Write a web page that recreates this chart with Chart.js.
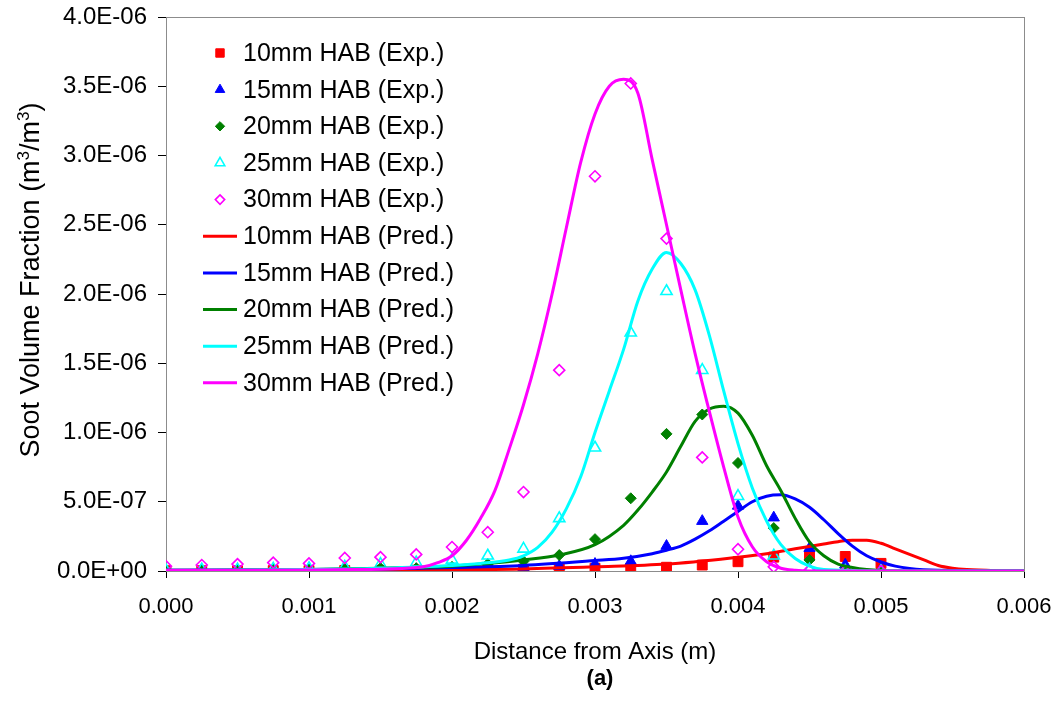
<!DOCTYPE html>
<html>
<head>
<meta charset="utf-8">
<script src="https://cdn.jsdelivr.net/npm/chart.js@4/dist/chart.umd.min.js"></script>
<style>
  html, body { margin: 0; padding: 0; background: #fff; }
  #wrap { width: 1061px; height: 708px; }
</style>
</head>
<body>
<div id="wrap"><canvas id="chart_soot"></canvas></div>
<script>
// soot volume fraction values are written in units of 1E-06 m3/m3
const unit = 1e-6

// experimental points (radial positions every 0.25 mm)
const exp_x = [0, 0.00025, 0.0005, 0.00075, 0.001, 0.00125, 0.0015, 0.00175, 0.002, 0.00225, 0.0025,
    0.00275, 0.003, 0.00325, 0.0035, 0.00375, 0.004, 0.00425, 0.0045, 0.00475, 0.005]
const exp_10mm = [0.002, 0.002, 0.002, 0.003, 0.003, 0.004, 0.005, 0.006, 0.008, 0.01, 0.012,
    0.02, 0.02, 0.02, 0.027, 0.043, 0.067, 0.1, 0.11, 0.105, 0.055]
const exp_15mm = [0.002, 0.002, 0.003, 0.003, 0.003, 0.005, 0.008, 0.012, 0.015, 0.02, 0.025,
    0.035, 0.05, 0.07, 0.18, 0.36, 0.47, 0.385, 0.165, 0.045, 0.01]
const exp_20mm = [0.005, 0.005, 0.008, 0.01, 0.01, 0.015, 0.02, 0.02, 0.03, 0.05, 0.07,
    0.115, 0.23, 0.525, 0.99, 1.13, 0.78, 0.31, 0.08, 0.01, 0]
const exp_25mm = [0.005, 0.01, 0.01, 0.016, 0.02, 0.03, 0.05, 0.06, 0.08, 0.11, 0.16,
    0.38, 0.89, 1.72, 2.02, 1.45, 0.54, 0.11, 0.01, 0, 0]
const exp_30mm = [0.035, 0.043, 0.05, 0.06, 0.055, 0.094, 0.1, 0.12, 0.173, 0.28, 0.57,
    1.45, 2.85, 3.52, 2.4, 0.82, 0.157, 0.03, 0.007, 0, 0]

// predicted profiles
const pred_10mm_x = [0, 0.001, 0.002, 0.0025, 0.003, 0.0035, 0.004, 0.0042, 0.0044, 0.0046, 0.0047, 0.0048,
    0.0049, 0.005, 0.0051, 0.0052, 0.0053, 0.0054, 0.0055, 0.0056, 0.0058, 0.006]
const pred_10mm = [0.002, 0.004, 0.01, 0.015, 0.03, 0.05, 0.1, 0.125, 0.16, 0.195, 0.212, 0.222,
    0.222, 0.2, 0.16, 0.12, 0.08, 0.04, 0.02, 0.01, 0.002, 0]

const pred_15mm_x = [0, 0.001, 0.0015, 0.002, 0.0025, 0.003, 0.0032, 0.0034, 0.0035, 0.0036, 0.0037, 0.0038,
    0.0039, 0.004, 0.0041, 0.0042, 0.0043, 0.0044, 0.0045, 0.0046, 0.0047, 0.0048, 0.0049, 0.005,
    0.0051, 0.0052, 0.0054, 0.006]
const pred_15mm = [0.005, 0.01, 0.015, 0.025, 0.04, 0.075, 0.092, 0.125, 0.15, 0.18, 0.23, 0.29,
    0.36, 0.43, 0.5, 0.54, 0.55, 0.52, 0.46, 0.37, 0.27, 0.18, 0.11, 0.065,
    0.035, 0.018, 0.005, 0]

const pred_20mm_x = [0, 0.001, 0.0015, 0.002, 0.0022, 0.0025, 0.00275, 0.003, 0.0032, 0.0033, 0.0034, 0.0035,
    0.0036, 0.0037, 0.0038, 0.0039, 0.004, 0.0041, 0.0042, 0.0043, 0.0044, 0.0045, 0.0046, 0.0047,
    0.0048, 0.0049, 0.005, 0.0055, 0.006]
const pred_20mm = [0.005, 0.01, 0.02, 0.035, 0.05, 0.08, 0.115, 0.19, 0.33, 0.44, 0.57, 0.715,
    0.9, 1.08, 1.17, 1.19, 1.14, 0.98, 0.76, 0.58, 0.38, 0.21, 0.11, 0.05,
    0.025, 0.01, 0.004, 0, 0]

const pred_25mm_x = [0, 0.001, 0.0015, 0.002, 0.0022, 0.0024, 0.0025, 0.0026, 0.0027, 0.0028, 0.0029, 0.003,
    0.0031, 0.0032, 0.0033, 0.0034, 0.0035, 0.0036, 0.0037, 0.0038, 0.0039, 0.004, 0.0041, 0.0042,
    0.0043, 0.0044, 0.0045, 0.0046, 0.005, 0.006]
const pred_25mm = [0.005, 0.01, 0.02, 0.04, 0.055, 0.08, 0.11, 0.17, 0.28, 0.45, 0.68, 1.0,
    1.3, 1.6, 1.95, 2.18, 2.3, 2.22, 2.03, 1.7, 1.3, 0.92, 0.6, 0.36,
    0.19, 0.09, 0.035, 0.01, 0, 0]

const pred_30mm_x = [0, 0.0005, 0.001, 0.0013, 0.0016, 0.0018, 0.0019, 0.002, 0.0021, 0.0022, 0.0023, 0.0024,
    0.0025, 0.0026, 0.0027, 0.0028, 0.0029, 0.003, 0.0031, 0.0032, 0.0033, 0.0034, 0.0035, 0.0036,
    0.0037, 0.0038, 0.0039, 0.004, 0.0041, 0.0042, 0.0043, 0.0044, 0.0045, 0.006]
const pred_30mm = [0.005, 0.005, 0.007, 0.01, 0.017, 0.03, 0.06, 0.11, 0.22, 0.38, 0.58, 0.88,
    1.2, 1.57, 2.0, 2.48, 2.95, 3.3, 3.5, 3.55, 3.45, 2.97, 2.5, 2.03,
    1.57, 1.15, 0.75, 0.39, 0.175, 0.067, 0.02, 0.005, 0, 0]

// axis ticks
const x_ticks = [0, 0.001, 0.002, 0.003, 0.004, 0.005, 0.006]
const y_ticks = [0, 0.5, 1.0, 1.5, 2.0, 2.5, 3.0, 3.5, 4.0]

const colores = ["#ff0000", "#0000ff", "#008000", "#00ffff", "#ff00ff"]
const alturas = ["10mm", "15mm", "20mm", "25mm", "30mm"]

const fuente = "'Liberation Sans', Arial, sans-serif"

function to_points(xs, ys) {
    puntos = []
    for (i = 0; i < xs.length; i++) {
        puntos.push({ x: xs[i], y: ys[i] * unit })
    }
    return puntos
}

function format_sci(valor) {
    partes = valor.toExponential(1).split("e")
    exponente = parseInt(partes[1])
    signo = exponente < 0 ? "-" : "+"
    return partes[0] + "E" + signo + String(Math.abs(exponente)).padStart(2, "0")
}

exp_series = [exp_10mm, exp_15mm, exp_20mm, exp_25mm, exp_30mm]
exp_styles = [
    { pointStyle: "rect", radius: 7, fill: true },
    { pointStyle: "triangle", radius: 6.5, fill: true },
    { pointStyle: "rectRot", radius: 5.5, fill: true },
    { pointStyle: "triangle", radius: 6.5, fill: false },
    { pointStyle: "rectRot", radius: 5.5, fill: false }
]
pred_series = [
    [pred_10mm_x, pred_10mm], [pred_15mm_x, pred_15mm], [pred_20mm_x, pred_20mm],
    [pred_25mm_x, pred_25mm], [pred_30mm_x, pred_30mm]
]

datasets = []
for (k = 0; k < 5; k++) {
    estilo = exp_styles[k]
    datasets.push({
        label: `${alturas[k]} HAB (Exp.)`,
        data: to_points(exp_x, exp_series[k]),
        showLine: false,
        pointStyle: estilo.pointStyle,
        pointRadius: estilo.radius,
        pointHoverRadius: estilo.radius,
        pointBackgroundColor: estilo.fill ? colores[k] : "rgba(255,255,255,0)",
        pointBorderColor: colores[k],
        pointBorderWidth: estilo.fill ? 1 : 1.6,
        backgroundColor: colores[k],
        borderColor: colores[k],
        order: 20 - k
    })
}
for (k = 0; k < 5; k++) {
    datasets.push({
        label: `${alturas[k]} HAB (Pred.)`,
        data: to_points(pred_series[k][0], pred_series[k][1]),
        showLine: true,
        borderColor: colores[k],
        backgroundColor: colores[k],
        borderWidth: 3,
        pointRadius: 0,
        cubicInterpolationMode: "monotone",
        order: 10 - k
    })
}

// grey frame behind the data (Excel style plot area border)
const frame_plugin = {
    id: "frame_plugin",
    beforeDatasetsDraw(chart) {
        area = chart.chartArea
        ctx = chart.ctx
        ctx.save()
        ctx.strokeStyle = "#8c8c8c"
        ctx.lineWidth = 1
        ctx.strokeRect(area.left + 0.5, area.top + 0.5, area.right - area.left, area.bottom - area.top)
        ctx.restore()
    }
}

// legend drawn inside the plot area, top left
const legend_plugin = {
    id: "legend_plugin",
    afterDatasetsDraw(chart) {
        ctx = chart.ctx
        ctx.save()
        ctx.font = `25px ${fuente}`
        ctx.textBaseline = "middle"
        ctx.textAlign = "left"
        for (j = 0; j < chart.data.datasets.length; j++) {
            ds = chart.data.datasets[j]
            cy = 53 + j * 36.65
            cx = 220
            if (ds.showLine) {
                ctx.strokeStyle = ds.borderColor
                ctx.lineWidth = 3
                ctx.beginPath()
                ctx.moveTo(203, cy)
                ctx.lineTo(237, cy)
                ctx.stroke()
            } else {
                ctx.fillStyle = ds.pointBackgroundColor
                ctx.strokeStyle = ds.pointBorderColor
                ctx.lineWidth = ds.pointBorderWidth
                r = ds.pointRadius * 0.85
                ctx.beginPath()
                if (ds.pointStyle == "rect") {
                    s = r * Math.SQRT1_2
                    ctx.rect(cx - s, cy - s, 2 * s, 2 * s)
                } else if (ds.pointStyle == "triangle") {
                    ctx.moveTo(cx, cy - r)
                    ctx.lineTo(cx + r * 0.866, cy + r * 0.5)
                    ctx.lineTo(cx - r * 0.866, cy + r * 0.5)
                    ctx.closePath()
                } else {
                    ctx.moveTo(cx, cy - r)
                    ctx.lineTo(cx + r, cy)
                    ctx.lineTo(cx, cy + r)
                    ctx.lineTo(cx - r, cy)
                    ctx.closePath()
                }
                ctx.fill()
                ctx.stroke()
            }
            ctx.fillStyle = "#000"
            ctx.fillText(ds.label, 243, cy + 1)
        }
        ctx.restore()
    }
}

// y axis title with real superscripts, and the "(a)" caption under the x title
const textos_plugin = {
    id: "textos_plugin",
    afterDraw(chart) {
        ctx = chart.ctx
        area = chart.chartArea
        partes = [["Soot Volume Fraction (m", false], ["3", true], ["/m", false], ["3", true], [")", false]]
        ctx.save()
        ctx.fillStyle = "#000"
        ctx.textBaseline = "alphabetic"
        ctx.textAlign = "left"
        total = 0
        for (p of partes) {
            ctx.font = p[1] ? `17px ${fuente}` : `27px ${fuente}`
            total += ctx.measureText(p[0]).width
        }
        ctx.translate(39, 280)
        ctx.rotate(-Math.PI / 2)
        pos = -total / 2
        for (p of partes) {
            ctx.font = p[1] ? `17px ${fuente}` : `27px ${fuente}`
            ctx.fillText(p[0], pos, p[1] ? -10 : 0)
            pos += ctx.measureText(p[0]).width
        }
        ctx.restore()

        ctx.save()
        ctx.fillStyle = "#000"
        ctx.font = `bold 22px ${fuente}`
        ctx.textAlign = "center"
        ctx.textBaseline = "middle"
        ctx.fillText("(a)", (area.left + area.right) / 2 + 5, 679)
        ctx.restore()
    }
}

new Chart(document.querySelector("#chart_soot"), {
    type: "scatter",
    data: { datasets: datasets },
    plugins: [frame_plugin, legend_plugin, textos_plugin],
    options: {
        responsive: true,
        maintainAspectRatio: false,
        animation: false,
        layout: { padding: { top: 17, right: 37, left: 0, bottom: 0 } },
        scales: {
            x: {
                type: "linear",
                min: 0,
                max: 0.006,
                afterBuildTicks: (scale) => { scale.ticks = x_ticks.map(v => ({ value: v })) },
                afterFit: (scale) => {
                    scale.height = 137
                    scale.paddingLeft = 0
                    scale.paddingRight = 0
                },
                ticks: {
                    color: "#000",
                    font: { family: fuente, size: 22 },
                    padding: 16,
                    maxRotation: 0,
                    callback: (v) => Number(v).toFixed(3)
                },
                grid: { display: true, drawOnChartArea: false, drawTicks: true, tickLength: 7, color: "#000" },
                border: { display: true, color: "#000", width: 1 },
                title: {
                    display: true,
                    text: "Distance from Axis (m)",
                    color: "#000",
                    font: { family: fuente, size: 24 },
                    padding: { top: 4, bottom: 41 }
                }
            },
            y: {
                type: "linear",
                min: 0,
                max: 4e-6,
                afterBuildTicks: (scale) => { scale.ticks = y_ticks.map(v => ({ value: v * unit })) },
                afterFit: (scale) => {
                    scale.width = 166
                    scale.paddingTop = 0
                    scale.paddingBottom = 0
                },
                ticks: {
                    color: "#000",
                    font: { family: fuente, size: 24 },
                    padding: 11,
                    callback: (v) => format_sci(v)
                },
                grid: { display: true, drawOnChartArea: false, drawTicks: true, tickLength: 8, color: "#000" },
                border: { display: true, color: "#000", width: 1 },
                title: { display: false }
            }
        },
        plugins: {
            legend: { display: false },
            tooltip: { enabled: false }
        }
    }
})
</script>
</body>
</html>
